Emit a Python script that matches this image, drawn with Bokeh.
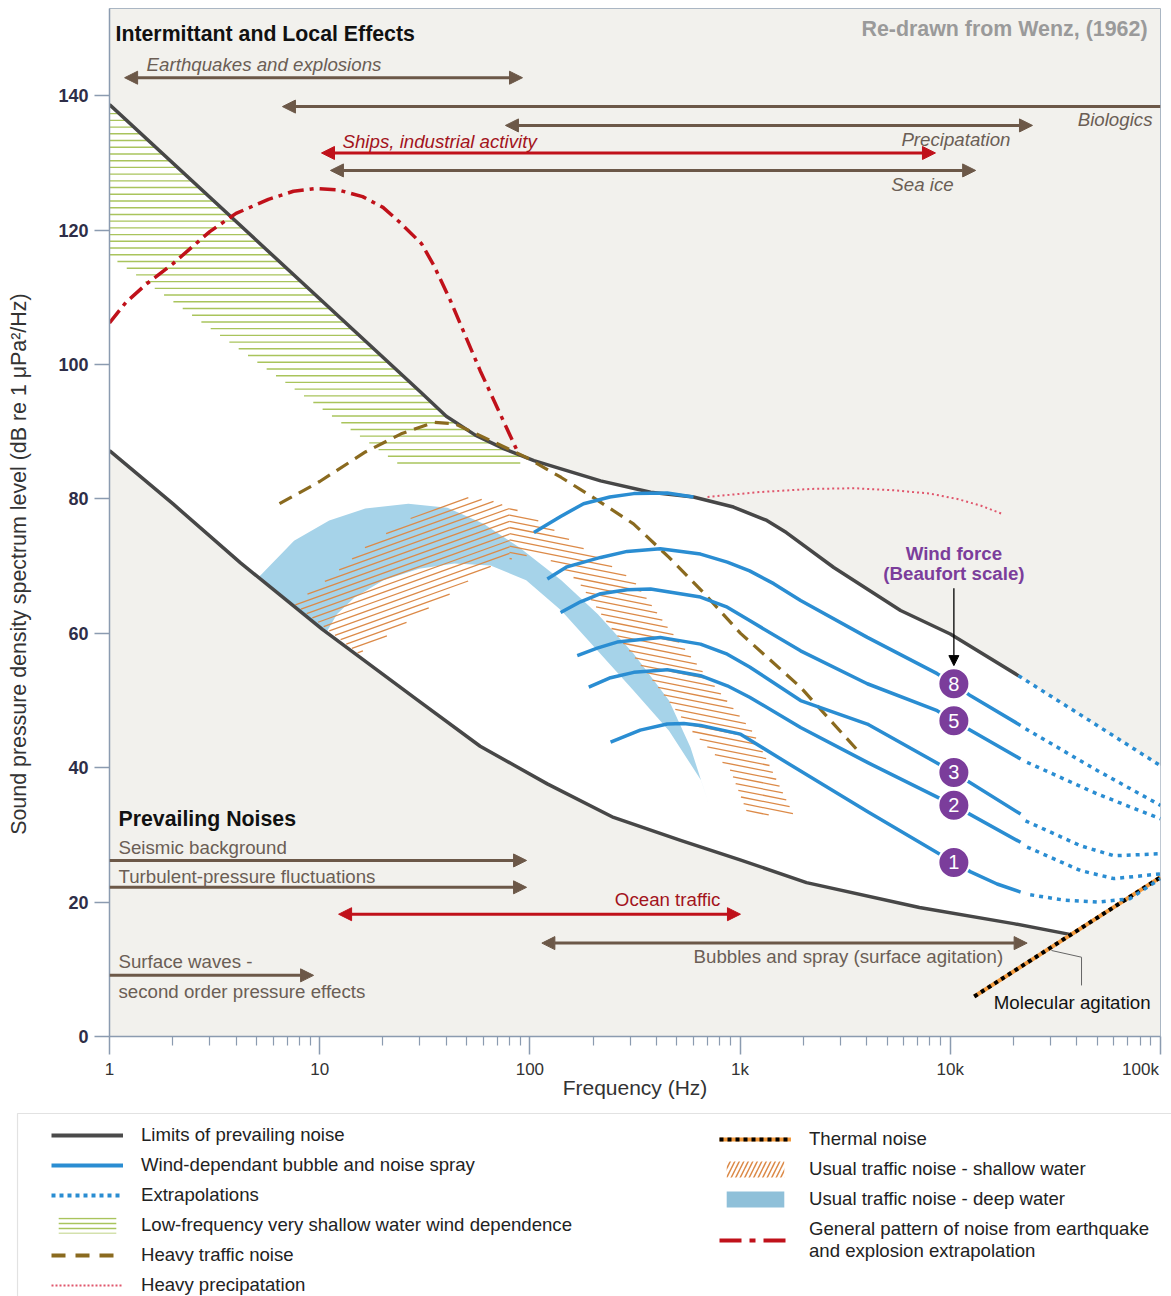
import numpy as np
from bokeh.plotting import figure
from bokeh.models import (Range1d, FixedTicker, Arrow, NormalHead, Label, Legend,
                          LegendItem, BoxAnnotation, LogAxis)
from bokeh.embed import file_html
from bokeh.resources import INLINE
from bokeh.core.properties import value

FONT = "Liberation Sans"

# ---------------- data ----------------
x_ticks = [1, 10, 100, 1000, 10000, 100000]
x_tick_labels = ["1", "10", "100", "1k", "10k", "100k"]
y_ticks = [0, 20, 40, 60, 80, 100, 120, 140]
y_title = "Sound pressure density spectrum level (dB re 1  \u03bcPa\u00b2/Hz)"
x_title = "Frequency (Hz)"

# limits of prevailing noise
upper_f = [1, 30, 40, 55, 75, 104.5, 217, 375, 600, 930, 1340, 1660, 2790, 5800, 10000, 21100]
upper_db = [138.7, 96.0, 92.3, 89.5, 87.5, 85.7, 82.7, 81.0, 80.3, 78.8, 76.8, 75.0, 69.8, 63.4, 59.9, 53.7]
upper_ext_f = [21100, 45000, 100000]
upper_ext_db = [53.7, 47.2, 40.3]
lower_f = [1, 2, 4.2, 10.3, 30, 58, 121, 250, 521, 1000, 2070, 7130, 20000, 37000]
lower_db = [87.2, 79.3, 70.5, 60.6, 49.8, 43.2, 37.6, 32.6, 29.2, 26.3, 22.9, 19.2, 16.8, 15.2]

# thermal noise
thermal_f = [13000, 100000]
thermal_db = [5.95, 23.7]

# low-frequency very shallow water wind dependence (lower-left edge and floor)
green_f = [1, 23.5, 90]
green_db = [116.2, 85.3, 85.3]

# usual traffic noise - deep water (outer edge, then inner edge back)
deep_outer_f = [5.11, 7.55, 11.1, 16.5, 26.4, 40.5, 60.2, 88.9, 141, 210, 311, 459, 581, 707]
deep_outer_db = [68.3, 73.8, 76.8, 78.6, 79.3, 78.7, 76.3, 72.8, 67.9, 62.9, 57.0, 50.0, 43.0, 34.7]
deep_inner_f = [653, 459, 311, 210, 141, 96, 65, 43.8, 29.7, 20.1, 14.6, 12.1, 10.7]
deep_inner_db = [38.1, 45.5, 51.5, 57.4, 63.4, 67.9, 70.1, 70.4, 69.6, 67.9, 65.3, 62.9, 60.0]

# usual traffic noise - shallow water (outer edge, then inner edge back)
shallow_outer_f = [7.55, 11.2, 16.5, 24.4, 36.1, 47.5, 65.0, 96.0, 131.5, 194, 311, 452, 700, 1159, 1815]
shallow_outer_db = [64.4, 68.3, 72.8, 76.3, 79.3, 80.3, 79.8, 77.8, 75.3, 72.0, 67.9, 60.9, 53.4, 45.2, 32.7]
shallow_inner_f = [1084, 900, 600, 375, 242, 168, 112, 70.1, 51.4, 37.6, 27.5, 19.3, 15.3]
shallow_inner_db = [33.2, 39.6, 45.2, 53.4, 60.9, 67.9, 72.0, 70.6, 67.9, 64.9, 62.2, 58.9, 57.0]

# heavy traffic noise
traffic_f = [6.44, 10, 16.5, 24.4, 34.9, 43.8, 65, 96, 141, 210, 311, 459, 677, 1005, 1936, 3740]
traffic_db = [79.3, 82.6, 87.0, 89.7, 91.4, 91.2, 88.7, 86.2, 83.2, 79.8, 76.3, 71.3, 65.9, 60.0, 52.0, 42.1]

# heavy precipitation
precip_f = [700, 1200, 2180, 3500, 5400, 8000, 10800, 14000, 17600]
precip_db = [80.3, 81.0, 81.5, 81.6, 81.3, 80.8, 80.0, 79.0, 77.8]

# earthquakes and explosions
quake_f = [1, 1.2, 1.5, 2, 3, 4, 5.7, 7.5, 9.5, 12.2, 16, 20, 24.2, 30.5, 35, 41.9, 58, 87.5]
quake_db = [106.2, 109.3, 112.0, 115.0, 119.8, 122.5, 124.6, 125.8, 126.2, 126.0, 125.0, 123.4,
            121.1, 118.0, 114.7, 109.5, 99.1, 87.0]

# wind-dependent bubble and spray noise (solid) and extrapolations (dotted)
wind_top_f = [104.5, 140, 180, 240, 312, 450, 600]
wind_top_db = [75.0, 77.4, 79.3, 80.3, 80.8, 80.9, 80.3]
wind8_f = [121, 150, 217, 290, 417, 648, 869, 1110, 1445, 1940, 4030, 8660, 10400, 12500, 21600]
wind8_db = [68.1, 69.9, 71.3, 72.2, 72.6, 71.8, 70.6, 69.3, 67.4, 64.9, 59.4, 54.0, 52.5, 50.7, 46.3]
wind5_f = [140, 174, 217, 290, 375, 648, 869, 1110, 1940, 4030, 8660, 10400, 21600]
wind5_db = [63.1, 64.7, 65.9, 66.5, 66.6, 65.4, 63.9, 61.9, 57.4, 52.5, 48.5, 47.0, 41.3]
wind3_f = [168, 209, 260, 417, 648, 869, 1110, 1940, 4030, 10400, 21600]
wind3_db = [56.7, 57.8, 58.7, 59.4, 58.4, 56.9, 55.0, 50.0, 46.5, 39.3, 33.1]
wind2_f = [190.6, 242, 312, 450, 648, 869, 1110, 1940, 4030, 10400, 21600]
wind2_db = [52.0, 53.4, 54.2, 54.6, 53.7, 52.2, 50.5, 46.0, 40.8, 34.4, 28.9]
wind1_f = [242, 335, 450, 540, 648, 1005, 1620, 4030, 10400, 12500, 16700, 21600]
wind1_db = [43.8, 45.6, 46.5, 46.6, 46.3, 45.0, 41.0, 33.5, 25.9, 24.5, 22.7, 21.5]
ext8_f = [22800, 50000, 100000]
ext8_db = [45.8, 39.6, 34.4]
ext5_f = [23200, 50000, 100000]
ext5_db = [40.8, 36.1, 32.4]
ext3_f = [22800, 41600, 60000, 100000]
ext3_db = [32.1, 28.4, 26.9, 27.2]
ext2_f = [23200, 41600, 60000, 100000]
ext2_db = [28.2, 24.7, 23.5, 24.2]
ext1_f = [24000, 34700, 50000, 71400, 100000]
ext1_db = [21.1, 20.3, 20.0, 20.5, 23.5]

# Beaufort markers
beaufort_labels = ["8", "5", "3", "2", "1"]
beaufort_f = [10400, 10400, 10400, 10400, 10400]
beaufort_db = [52.5, 47.0, 39.3, 34.4, 25.9]
wind_note_f = 10400
wind_note_db = [71.9, 68.9]
wind_arrow_db = [66.7, 55.2]

# molecular agitation leader
molec_f = [30300, 42100, 42100]
molec_db = [12.8, 11.8, 7.6]
molec_text_f = 16100
molec_text_db = 5.1

# source ranges (arrows)
top_names = ["Earthquakes and explosions", "Biologics", "Precipatation",
             "Ships, industrial activity", "Sea ice"]
top_f_lo = [1.18, 6.65, 76.5, 10.2, 11.25]
top_f_hi = [92.2, 100000, 24600, 8500, 13200]
top_db = [142.7, 138.4, 135.6, 131.5, 128.9]

bot_names = ["Seismic background", "Turbulent-pressure fluctuations", "Ocean traffic",
             "Bubbles and spray (surface agitation)", "Surface waves -"]
bot_f_lo = [1, 1, 12.3, 114, 1]
bot_f_hi = [96.4, 96.4, 1004, 23200, 9.35]
bot_db = [26.2, 22.2, 18.2, 13.9, 9.1]
surface_second_line = "second order pressure effects"

# ---------------- styles ----------------
DARK = "#474747"
BLUE = "#2a8dd2"
GREEN = "#a9c45c"
ORANGE_H = "#dc8a48"
DEEP = "#a6d3e9"
BROWN = "#8a6a1f"
PRECIP = "#e0566c"
RED = "#c0111a"
ARROW_BROWN = "#6c5848"
TEXT_BROWN = "#6b5e55"
RED_TEXT = "#a3141c"
PURPLE = "#7b3d9b"
AXIS = "#8b9bb0"
BG = "#f2f1ed"
THERMAL_O = "#f39a3c"
TXT = "18.7px"
HEAD = "21.3px"

W = 1171
H_MAIN = 1103
B_LEFT, B_RIGHT, B_TOP, B_BOTTOM = 109, 11, 8, 67
Y_MAX = 153
KX = (W - B_LEFT - B_RIGHT) / 5.0
KY = (H_MAIN - B_TOP - B_BOTTOM) / Y_MAX


def hatch_segments(poly_f, poly_db, slope, gap, phase=0.0, f_min=None, f_max=None):
    u = np.log10(np.asarray(poly_f, float)) * KX
    v = np.asarray(poly_db, float) * KY
    u2, v2 = np.roll(u, -1), np.roll(v, -1)
    c_pts = v - slope * u
    k0 = np.floor((c_pts.min() - phase) / gap)
    k1 = np.ceil((c_pts.max() - phase) / gap)
    lo = -np.inf if f_min is None else np.log10(f_min) * KX
    hi = np.inf if f_max is None else np.log10(f_max) * KX
    x0, y0, x1, y1 = [], [], [], []
    for k in np.arange(k0, k1 + 1):
        c = phase + k * gap
        g1 = v - slope * u - c
        g2 = v2 - slope * u2 - c
        m = (g1 > 0) != (g2 > 0)
        if not m.any():
            continue
        t = g1[m] / (g1[m] - g2[m])
        us = np.sort(u[m] + t * (u2[m] - u[m]))
        for a, b in zip(us[0::2], us[1::2]):
            a, b = max(a, lo), min(b, hi)
            if b > a:
                x0.append(10 ** (a / KX)); y0.append((slope * a + c) / KY)
                x1.append(10 ** (b / KX)); y1.append((slope * b + c) / KY)
    return x0, y0, x1, y1


p = figure(width=W, height=H_MAIN, x_axis_type="log",
           x_range=Range1d(1, 1e5), y_range=Range1d(0, Y_MAX),
           output_backend="svg", toolbar_location=None,
           min_border_left=B_LEFT, min_border_right=B_RIGHT,
           min_border_top=B_TOP, min_border_bottom=B_BOTTOM)
p.background_fill_color = BG
p.border_fill_color = "white"
p.outline_line_color = "#aab6c3"
p.grid.visible = False

xa, ya = p.xaxis[0], p.yaxis[0]
for ax in (xa, ya):
    ax.axis_line_color = AXIS
    ax.axis_line_width = 1.5
    ax.major_tick_line_color = AXIS
    ax.major_tick_line_width = 1.5
    ax.minor_tick_line_color = AXIS
    ax.minor_tick_line_width = 1.2
    ax.major_tick_in = 0
    ax.minor_tick_in = 0
    ax.major_label_text_font = FONT

# tick marks only on the frame axis
xa.ticker = FixedTicker(ticks=x_ticks,
                        minor_ticks=[m * d for d in x_ticks[:-1] for m in range(2, 10)])
xa.major_tick_out = 18
xa.minor_tick_out = 9
xa.major_label_overrides = {t: "" for t in x_ticks}
xa.major_label_text_font_size = "1px"
xa.major_label_standoff = 0

# tick labels + axis title on a second, line-less axis (last label kept inside the page)
label_ticks = x_ticks[:-1] + [10 ** (np.log10(x_ticks[-1]) - 20.0 / KX)]
xa2 = LogAxis(ticker=FixedTicker(ticks=label_ticks, minor_ticks=[]),
              major_label_overrides={t: l for t, l in zip(label_ticks, x_tick_labels)},
              axis_line_color=None, major_tick_line_color=None,
              minor_tick_line_color=None, major_tick_out=0, major_tick_in=0,
              major_label_standoff=5, major_label_text_font=FONT,
              major_label_text_font_size="17px", major_label_text_color="#333333",
              axis_label=x_title, axis_label_standoff=-6, axis_label_text_font=FONT,
              axis_label_text_font_size="21px", axis_label_text_font_style="normal",
              axis_label_text_color="#333333")
p.add_layout(xa2, "below")

ya.ticker = FixedTicker(ticks=y_ticks, minor_ticks=[])
ya.major_tick_out = 15
ya.minor_tick_line_color = None
ya.major_label_text_font_size = "18px"
ya.major_label_text_font_style = "bold"
ya.major_label_text_color = "#2e2e48"
ya.major_label_standoff = 6
# trailing invisible figure spaces move the visible title down along the axis
ya.axis_label = y_title + "\u2007" * 6 + "\u2008"
ya.axis_label_standoff = 24
ya.axis_label_text_font = FONT
ya.axis_label_text_font_size = "21.4px"
ya.axis_label_text_font_style = "normal"
ya.axis_label_text_color = "#333333"

# white band between the limits of prevailing noise
white_f = upper_f + upper_ext_f[1:] + thermal_f[1:] + lower_f[::-1]
white_db = upper_db + upper_ext_db[1:] + thermal_db[1:] + lower_db[::-1]
p.patch(white_f, white_db, fill_color="white", line_color=None)

# green hatching (clipped to the upper limit)
cut = green_f[-1]
top_sel = [i for i, f in enumerate(upper_f) if f < cut]
g_top_f = [upper_f[i] for i in top_sel] + [cut]
g_top_db = [upper_db[i] for i in top_sel] + [float(np.interp(np.log10(cut), np.log10(upper_f), upper_db))]
g_poly_f = g_top_f + green_f[::-1]
g_poly_db = g_top_db + green_db[::-1]
gx0, gy0, gx1, gy1 = hatch_segments(g_poly_f, g_poly_db, 0.0, KY * 1.0,
                                    phase=(green_db[-1] + 0.05) * KY)
p.segment(gx0, gy0, gx1, gy1, line_color=GREEN, line_width=1.4)

# deep water traffic band
p.patch(deep_outer_f + deep_inner_f, deep_outer_db + deep_inner_db,
        fill_color=DEEP, line_color=None)

# shallow water traffic hatching
s_poly_f = shallow_outer_f + shallow_inner_f
s_poly_db = shallow_outer_db + shallow_inner_db
ax0, ay0, ax1, ay1 = hatch_segments(s_poly_f, s_poly_db, 0.36, 6.4, f_max=80)
bx0, by0, bx1, by1 = hatch_segments(s_poly_f, s_poly_db, -0.2, 6.2, f_min=80)
p.segment(ax0 + bx0, ay0 + by0, ax1 + bx1, ay1 + by1, line_color=ORANGE_H, line_width=1.3)

# limits
p.line(upper_f, upper_db, line_color=DARK, line_width=3.5, line_join="round")
p.line(lower_f, lower_db, line_color=DARK, line_width=3.5, line_join="round")
p.line(upper_ext_f, upper_ext_db, line_color=BLUE, line_width=3.5, line_dash="4 5")

# thermal noise
p.line(thermal_f, thermal_db, line_color=THERMAL_O, line_width=4)
p.line(thermal_f, thermal_db, line_color="black", line_width=4, line_dash="4 4")

# heavy traffic, precipitation, earthquakes
p.line(traffic_f, traffic_db, line_color=BROWN, line_width=3.2, line_dash="14 8")
p.line(precip_f, precip_db, line_color=PRECIP, line_width=2, line_dash="2 3")
p.line(quake_f, quake_db, line_color=RED, line_width=3.5, line_dash="16 6 4 6")

# wind curves
for wf, wd in [(wind_top_f, wind_top_db), (wind8_f, wind8_db), (wind5_f, wind5_db),
               (wind3_f, wind3_db), (wind2_f, wind2_db), (wind1_f, wind1_db)]:
    p.line(wf, wd, line_color=BLUE, line_width=3.5, line_join="round")
for wf, wd in [(ext8_f, ext8_db), (ext5_f, ext5_db), (ext3_f, ext3_db),
               (ext2_f, ext2_db), (ext1_f, ext1_db)]:
    p.line(wf, wd, line_color=BLUE, line_width=3.5, line_dash="4 5")

# Beaufort markers
p.scatter(beaufort_f, beaufort_db, marker="circle", size=31, fill_color=PURPLE,
          line_color="white", line_width=2)
p.text(beaufort_f, beaufort_db, text=beaufort_labels, text_align="center",
       text_baseline="middle", text_color="white", text_font=value(FONT),
       text_font_size="20px")
for txt, yy in zip(["Wind force", "(Beaufort scale)"], wind_note_db):
    p.add_layout(Label(x=wind_note_f, y=yy, text=txt, text_align="center",
                       text_baseline="middle", text_font=FONT, text_font_size=TXT,
                       text_font_style="bold", text_color=PURPLE))
p.add_layout(Arrow(x_start=wind_note_f, y_start=wind_arrow_db[0], x_end=wind_note_f,
                   y_end=wind_arrow_db[1], line_color="black", line_width=1.3,
                   end=NormalHead(size=10, fill_color="black", line_color="black")))

# molecular agitation
p.line(molec_f, molec_db, line_color="#666666", line_width=1)
p.add_layout(Label(x=molec_text_f, y=molec_text_db, text="Molecular agitation",
                   text_baseline="middle", text_font=FONT, text_font_size=TXT,
                   text_color="#111111"))


def add_range(name, lo, hi, db, color, start_head, end_head, anchor, dx, dy,
              italic, tcolor):
    head = lambda: NormalHead(size=13, fill_color=color, line_color=color, line_width=1)
    p.add_layout(Arrow(x_start=lo, y_start=db, x_end=hi, y_end=db, line_color=color,
                       line_width=3, start=head() if start_head else None,
                       end=head() if end_head else None))
    xx = lo if anchor == "left" else hi
    p.add_layout(Label(x=xx, y=db, x_offset=dx, y_offset=dy, text=name,
                       text_align=anchor, text_baseline="middle", text_font=FONT,
                       text_font_size=TXT,
                       text_font_style="italic" if italic else "normal",
                       text_color=tcolor))


add_range(top_names[0], top_f_lo[0], top_f_hi[0], top_db[0], ARROW_BROWN, True, True, "left", 22, 13, True, TEXT_BROWN)
add_range(top_names[1], top_f_lo[1], top_f_hi[1], top_db[1], ARROW_BROWN, True, False, "right", -8, -13, True, TEXT_BROWN)
add_range(top_names[2], top_f_lo[2], top_f_hi[2], top_db[2], ARROW_BROWN, True, True, "right", -22, -14, True, TEXT_BROWN)
add_range(top_names[3], top_f_lo[3], top_f_hi[3], top_db[3], RED, True, True, "left", 21, 11, True, RED_TEXT)
add_range(top_names[4], top_f_lo[4], top_f_hi[4], top_db[4], ARROW_BROWN, True, True, "right", -22, -14, True, TEXT_BROWN)

add_range(bot_names[0], bot_f_lo[0], bot_f_hi[0], bot_db[0], ARROW_BROWN, False, True, "left", 9, 13, False, TEXT_BROWN)
add_range(bot_names[1], bot_f_lo[1], bot_f_hi[1], bot_db[1], ARROW_BROWN, False, True, "left", 9, 11, False, TEXT_BROWN)
add_range(bot_names[2], bot_f_lo[2], bot_f_hi[2], bot_db[2], RED, True, True, "right", -20, 15, False, RED_TEXT)
add_range(bot_names[3], bot_f_lo[3], bot_f_hi[3], bot_db[3], ARROW_BROWN, True, True, "right", -24, -13, False, TEXT_BROWN)
add_range(bot_names[4], bot_f_lo[4], bot_f_hi[4], bot_db[4], ARROW_BROWN, False, True, "left", 9, 14, False, TEXT_BROWN)
p.add_layout(Label(x=bot_f_lo[4], y=bot_db[4], x_offset=9, y_offset=-16,
                   text=surface_second_line, text_baseline="middle", text_font=FONT,
                   text_font_size=TXT, text_color=TEXT_BROWN))

# section headers
p.add_layout(Label(x=6, y=1003, x_units="screen", y_units="screen",
                   text="Intermittant and Local Effects", text_baseline="middle",
                   text_font=FONT, text_font_size=HEAD, text_font_style="bold",
                   text_color="#111111"))
p.add_layout(Label(x=1038, y=1008, x_units="screen", y_units="screen",
                   text="Re-drawn from Wenz, (1962)", text_align="right",
                   text_baseline="middle", text_font=FONT, text_font_size="21.4px",
                   text_font_style="bold", text_color="#9a9a9a"))
p.add_layout(Label(x=9, y=218, x_units="screen", y_units="screen",
                   text="Prevailing Noises", text_baseline="middle",
                   text_font=FONT, text_font_size=HEAD, text_font_style="bold",
                   text_color="#111111"))

# ---------------- legend panel ----------------
LH = 193
L_TOP = 9
L_LEFT = 16
leg = figure(width=W, height=LH, x_range=Range1d(0, 1), y_range=Range1d(0, 1),
             output_backend="svg", toolbar_location=None,
             x_axis_location=None, y_axis_location=None,
             min_border_left=L_LEFT, min_border_right=0, min_border_top=L_TOP,
             min_border_bottom=0)
leg.grid.visible = False
leg.outline_line_color = None
leg.background_fill_color = "white"
leg.border_fill_color = "white"
leg.add_layout(BoxAnnotation(left=1, right=5000, bottom=-500, top=LH - L_TOP - 1,
                             left_units="screen", right_units="screen",
                             bottom_units="screen", top_units="screen",
                             fill_alpha=0, line_color="#a0a0a0", line_width=1.2))

# off-range proxies that carry the legend styles
px, py = [2, 3], [2, 2]
qx, qy = [2, 3, 3], [2, 2, 3]
r_lim = leg.line(px, py, line_color="#4a4a4a", line_width=4)
r_wind = leg.line(px, py, line_color=BLUE, line_width=4)
r_ext = leg.line(px, py, line_color=BLUE, line_width=4, line_dash="4 4")
r_green = leg.patch(qx, qy, fill_alpha=0, line_alpha=0, hatch_pattern="horizontal_line",
                    hatch_color=GREEN, hatch_scale=5, hatch_weight=1.5)
r_traf = leg.line(px, py, line_color=BROWN, line_width=4, line_dash="14 10")
r_prec = leg.line(px, py, line_color=PRECIP, line_width=2, line_dash="2 2")
r_th1 = leg.line(px, py, line_color=THERMAL_O, line_width=4)
r_th2 = leg.line(px, py, line_color="black", line_width=4, line_dash="4 4")
r_shal = leg.patch(qx, qy, fill_alpha=0, line_alpha=0, hatch_pattern="right_diagonal_line",
                   hatch_color=ORANGE_H, hatch_scale=9, hatch_weight=1.5)
r_deep = leg.patch(qx, qy, fill_color="#8fc0d9", line_alpha=0)
r_quake = leg.line(px, py, line_color=RED, line_width=4, line_dash="22 8 6 8")

common = dict(glyph_width=72, glyph_height=20, label_height=20, label_standoff=18,
              spacing=8, padding=0, margin=0, border_line_color=None,
              background_fill_alpha=0, label_text_font=FONT,
              label_text_font_size="18.6px", label_text_color="#222222")
legend_left = Legend(items=[
    LegendItem(label="Limits of prevailing noise", renderers=[r_lim]),
    LegendItem(label="Wind-dependant bubble and noise spray", renderers=[r_wind]),
    LegendItem(label="Extrapolations", renderers=[r_ext]),
    LegendItem(label="Low-frequency very shallow water wind dependence", renderers=[r_green]),
    LegendItem(label="Heavy traffic noise", renderers=[r_traf]),
    LegendItem(label="Heavy precipatation", renderers=[r_prec]),
], location=(35, 0), **common)
legend_right = Legend(items=[
    LegendItem(label="Thermal noise", renderers=[r_th1, r_th2]),
    LegendItem(label="Usual traffic noise - shallow water", renderers=[r_shal]),
    LegendItem(label="Usual traffic noise - deep water", renderers=[r_deep]),
    LegendItem(label="General pattern of noise from earthquake\nand explosion extrapolation",
               renderers=[r_quake]),
], location=(703, 34), **common)
leg.add_layout(legend_left)
leg.add_layout(legend_right)

open("out.html", "w").write(file_html((p, leg), INLINE))
